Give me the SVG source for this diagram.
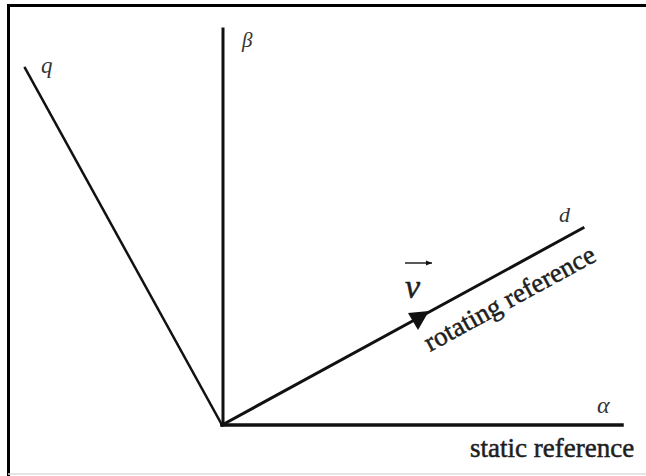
<svg xmlns="http://www.w3.org/2000/svg" width="646" height="476" viewBox="0 0 646 476">
<style>
.ax{stroke:#111;stroke-linecap:square;fill:none}
.lbl{fill:#1e1e1e}
.it{font-style:italic;fill:#333}
.big{stroke:#1e1e1e;stroke-width:0.5}
</style>
<defs>
<marker id="ah" viewBox="0 0 10 10" refX="10" refY="5" markerWidth="6" markerHeight="6" orient="auto" markerUnits="userSpaceOnUse">
<path d="M0,1 L10,5 L0,9 z" fill="#111"/>
</marker>
</defs>
<rect x="0" y="0" width="646" height="476" fill="#fff"/>
<g id="frame">
<path d="M8.5,476 L8.5,5.5 L646,5.5" stroke="#000" stroke-width="3" fill="none"/>
<line x1="8" y1="474" x2="646" y2="474" stroke="#ddd" stroke-width="1.5"/>
</g>
<g id="connectors">
<line id="q-axis" class="ax" x1="222" y1="425" x2="25" y2="68" stroke-width="2.5"/>
<line id="beta-axis" class="ax" x1="223" y1="425" x2="223" y2="29" stroke-width="3"/>
<line id="d-axis" class="ax" x1="222" y1="425" x2="583" y2="228" stroke-width="3"/>
<line id="alpha-axis" class="ax" x1="222" y1="425" x2="622" y2="425" stroke-width="3.5"/>
<path id="v-head" d="M429,311 L408,313 L418,330 z" fill="#111"/>
<line id="v-bar" x1="405" y1="263" x2="432" y2="263" stroke="#222" stroke-width="1.5" marker-end="url(#ah)"/>
</g>
<g font-family="Liberation Serif, Times New Roman, serif">
<g id="label-q"><text class="lbl it" x="41" y="73" font-size="23">q</text></g>
<g id="label-beta"><text class="lbl it" x="242" y="47" font-size="21">β</text></g>
<g id="label-d"><text class="lbl it" x="559" y="222" font-size="22">d</text></g>
<g id="label-alpha"><text class="lbl it" x="597" y="413" font-size="24">α</text></g>
<g id="label-v"><text class="lbl big" x="405" y="298" font-size="34" font-style="italic">ν</text></g>
<g id="label-rotating"><text class="lbl big" x="0" y="0" font-size="27" transform="translate(430,352) rotate(-28.7)">rotating reference</text></g>
<g id="label-static"><text class="lbl big" x="470" y="457" font-size="27">static reference</text></g>
</g>
</svg>
